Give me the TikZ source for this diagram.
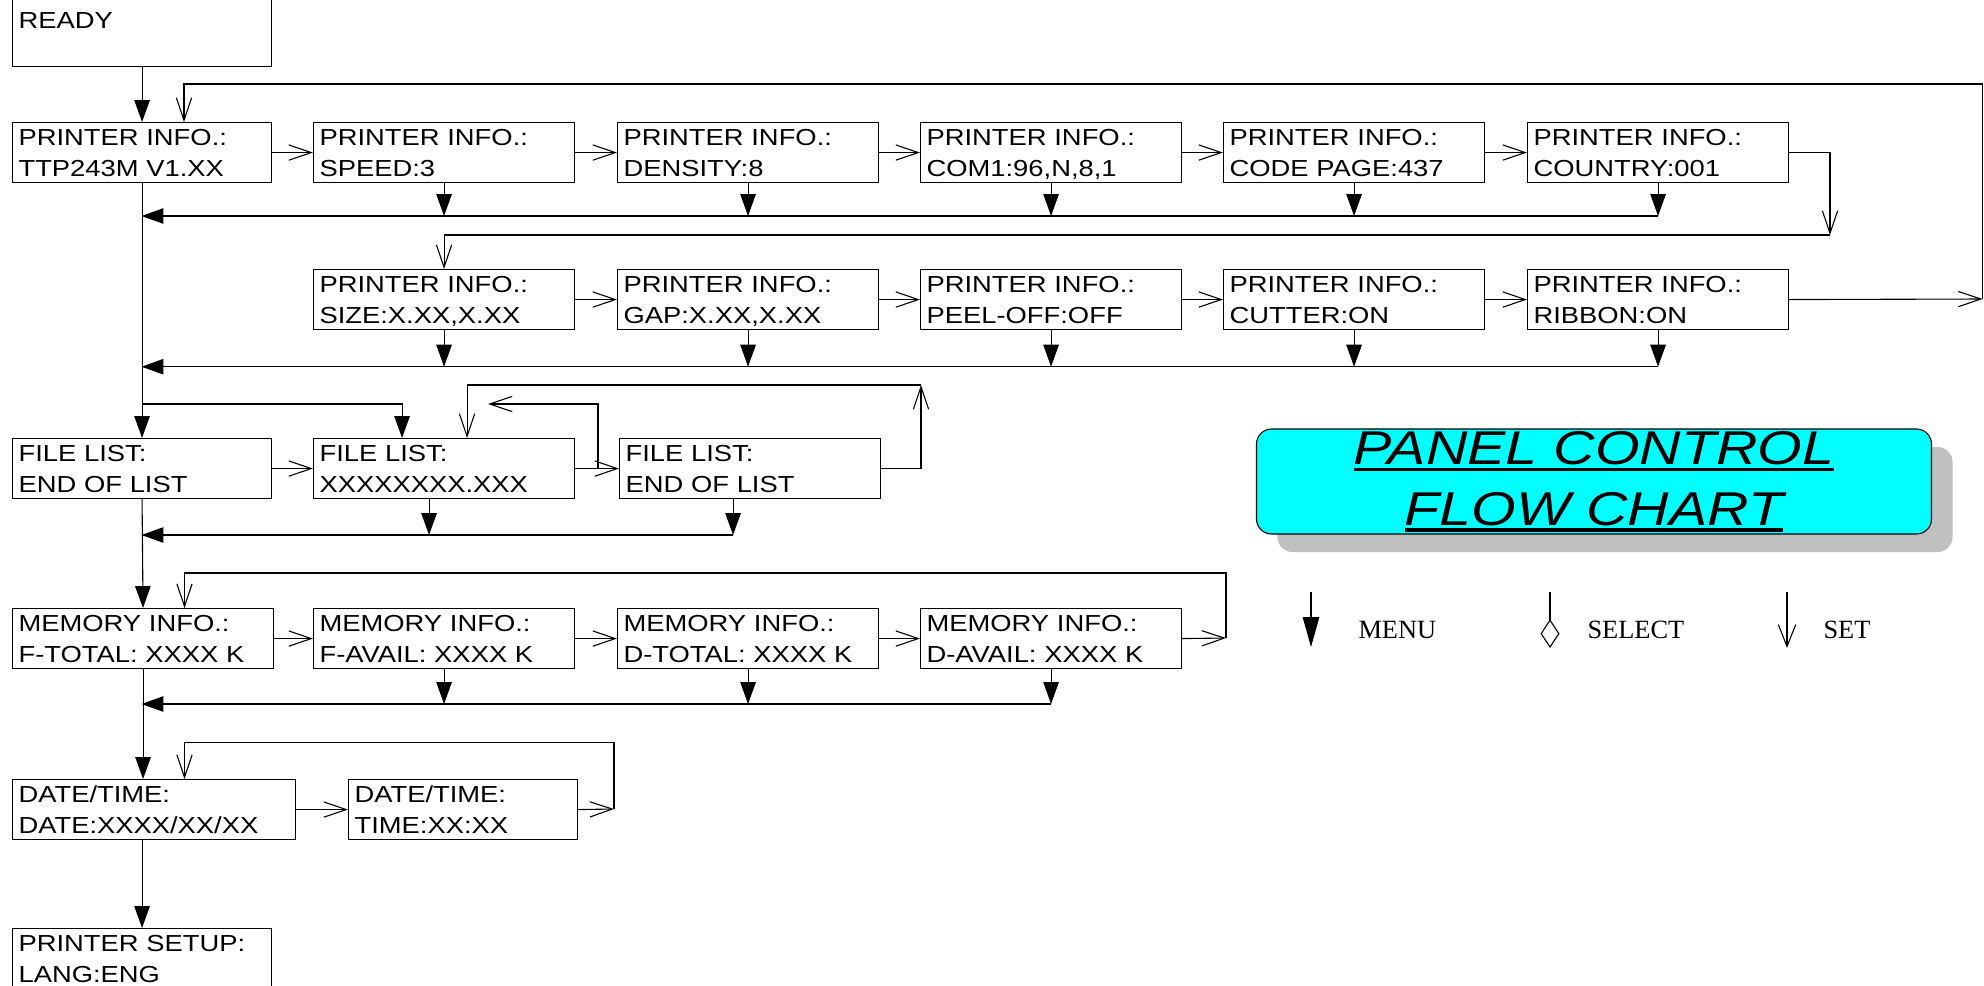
\documentclass[tikz,border=0pt]{standalone}
\usepackage{fontspec}
\usetikzlibrary{arrows.meta}
\newfontfamily\lcdfont[FakeStretch=1.18]{Liberation Sans}
\newfontfamily\titlefont[FakeStretch=1.21]{Liberation Sans}
\newfontfamily\legendfont{Liberation Serif}
\definecolor{titlecyan}{rgb}{0.000000, 1.000000, 1.000000}
\definecolor{shadegray}{rgb}{0.752941, 0.752941, 0.752941}
\newlength{\du}
\setlength{\du}{0.02cm}
\newcommand{\ulword}[1]{\setbox0\hbox{#1}\rlap{\rule[-3.8pt]{\wd0}{1.9pt}}\box0}
\tikzset{
  lcdbox/.style={draw=black, fill=white, anchor=north west, align=left,
    text width=#1\du, inner xsep=6\du, inner ysep=0pt, minimum height=60\du,
    text height=9.5pt, text depth=17.8pt,
    font=\lcdfont\fontsize{13.2pt}{17.8pt}\selectfont},
  menuarrow/.style={-{Triangle[length=12.5pt,width=8.8pt]}},
  setarrow/.style={-{Straight Barb[length=12.8pt,width=8.7pt]}},
  titlebox/.style={draw=black, fill=titlecyan, rounded corners=15\du,
    minimum width=675\du, minimum height=105\du, inner sep=0pt, align=center,
    font=\titlefont\itshape\fontsize{27pt}{34.5pt}\selectfont},
  titleshade/.style={fill=shadegray, rounded corners=15\du,
    minimum width=675\du, minimum height=105\du, inner sep=0pt},
  legendtext/.style={anchor=base west, inner sep=0pt,
    font=\legendfont\fontsize{15pt}{18pt}\selectfont}
}
\begin{document}
\begin{tikzpicture}
\pgftransformxscale{1.000000}
\pgftransformyscale{-1.000000}
\definecolor{dialinecolor}{rgb}{0.000000, 0.000000, 0.000000}
\pgfsetstrokecolor{dialinecolor}
\pgfsetlinewidth{1.100000\du}
\path[use as bounding box, fill=white] (0.000000\du,0.000000\du) rectangle (1984.000000\du,985.000000\du);
% boxes
\node[lcdbox=247, minimum height=67\du, text depth=14.6pt] (ready) at (12.000000\du,-1.000000\du) {READY};
\node[lcdbox=247] (pi1) at (12.000000\du,122.000000\du) {PRINTER INFO.:\\TTP243M V1.XX};
\node[lcdbox=249] (pi2) at (313.000000\du,122.000000\du) {PRINTER INFO.:\\SPEED:3};
\node[lcdbox=249] (pi3) at (617.000000\du,122.000000\du) {PRINTER INFO.:\\DENSITY:8};
\node[lcdbox=249] (pi4) at (920.000000\du,122.000000\du) {PRINTER INFO.:\\COM1:96,N,8,1};
\node[lcdbox=249] (pi5) at (1223.000000\du,122.000000\du) {PRINTER INFO.:\\CODE PAGE:437};
\node[lcdbox=249] (pi6) at (1527.000000\du,122.000000\du) {PRINTER INFO.:\\COUNTRY:001};
\node[lcdbox=249] (pr1) at (313.000000\du,269.000000\du) {PRINTER INFO.:\\SIZE:X.XX,X.XX};
\node[lcdbox=249] (pr2) at (617.000000\du,269.000000\du) {PRINTER INFO.:\\GAP:X.XX,X.XX};
\node[lcdbox=249] (pr3) at (920.000000\du,269.000000\du) {PRINTER INFO.:\\PEEL-OFF:OFF};
\node[lcdbox=249] (pr4) at (1223.000000\du,269.000000\du) {PRINTER INFO.:\\CUTTER:ON};
\node[lcdbox=249] (pr5) at (1527.000000\du,269.000000\du) {PRINTER INFO.:\\RIBBON:ON};
\node[lcdbox=247] (fl1) at (12.000000\du,438.000000\du) {FILE LIST:\\END OF LIST};
\node[lcdbox=249] (fl2) at (313.000000\du,438.000000\du) {FILE LIST:\\XXXXXXXX.XXX};
\node[lcdbox=249] (fl3) at (619.000000\du,438.000000\du) {FILE LIST:\\END OF LIST};
\node[lcdbox=249] (me1) at (12.000000\du,608.000000\du) {MEMORY INFO.:\\F-TOTAL: XXXX K};
\node[lcdbox=249] (me2) at (313.000000\du,608.000000\du) {MEMORY INFO.:\\F-AVAIL: XXXX K};
\node[lcdbox=249] (me3) at (617.000000\du,608.000000\du) {MEMORY INFO.:\\D-TOTAL: XXXX K};
\node[lcdbox=249] (me4) at (920.000000\du,608.000000\du) {MEMORY INFO.:\\D-AVAIL: XXXX K};
\node[lcdbox=271] (dt1) at (12.000000\du,779.000000\du) {DATE/TIME:\\DATE:XXXX/XX/XX};
\node[lcdbox=217] (dt2) at (348.000000\du,779.000000\du) {DATE/TIME:\\TIME:XX:XX};
\node[lcdbox=247] (ps) at (12.000000\du,928.000000\du) {PRINTER SETUP:\\LANG:ENG};
% corners of the lines
\coordinate (m1) at (141.500000\du,216.000000\du);
\coordinate (m2) at (141.500000\du,366.700000\du);
\coordinate (b1) at (141.500000\du,404.000000\du);
\coordinate (m3) at (141.500000\du,535.000000\du);
\coordinate (m4) at (141.500000\du,704.000000\du);
\coordinate (s1) at (1830.000000\du,235.000000\du);
\coordinate (r1) at (1982.500000\du,299.000000\du);
\coordinate (t1) at (184.000000\du,84.000000\du);
\coordinate (fj) at (598.000000\du,468.000000\du);
\coordinate (fb) at (488.000000\du,404.000000\du);
\coordinate (f3) at (921.000000\du,385.000000\du);
\coordinate (s4) at (1226.000000\du,638.000000\du);
\coordinate (t4) at (184.500000\du,573.000000\du);
\coordinate (s5) at (614.000000\du,809.000000\du);
\coordinate (t5) at (184.500000\du,742.700000\du);
% main column
\draw[menuarrow] (ready.south) -- (pi1.north);
\draw[menuarrow] (pi1.south) -- (fl1.north);
\draw[menuarrow] (fl1.south) -- (me1.north);
\draw[menuarrow] (me1.south) -- (me1.south |- dt1.north);
\draw[menuarrow] (ps.north |- dt1.south) -- (ps.north);
% printer info
\draw[setarrow] (pi1.east) -- (pi2.west);
\draw[setarrow] (pi2.east) -- (pi3.west);
\draw[setarrow] (pi3.east) -- (pi4.west);
\draw[setarrow] (pi4.east) -- (pi5.west);
\draw[setarrow] (pi5.east) -- (pi6.west);
\draw[setarrow] (pi6.east) -| (s1);
\draw[setarrow] (s1) -| (pr1.north);
\draw[menuarrow] (pi2.south) -- (pi2.south |- m1);
\draw[menuarrow] (pi3.south) -- (pi3.south |- m1);
\draw[menuarrow] (pi4.south) -- (pi4.south |- m1);
\draw[menuarrow] (pi5.south) -- (pi5.south |- m1);
\draw[menuarrow] (pi6.south) -- (pi6.south |- m1);
\draw[menuarrow] (pi6.south |- m1) -- (m1);
\draw[setarrow] (pr1.east) -- (pr2.west);
\draw[setarrow] (pr2.east) -- (pr3.west);
\draw[setarrow] (pr3.east) -- (pr4.west);
\draw[setarrow] (pr4.east) -- (pr5.west);
\draw[setarrow] (pr5.east) -- (r1);
\draw[setarrow] (r1) |- (t1) -- (t1 |- pi1.north);
\draw[menuarrow] (pr1.south) -- (pr1.south |- m2);
\draw[menuarrow] (pr2.south) -- (pr2.south |- m2);
\draw[menuarrow] (pr3.south) -- (pr3.south |- m2);
\draw[menuarrow] (pr4.south) -- (pr4.south |- m2);
\draw[menuarrow] (pr5.south) -- (pr5.south |- m2);
\draw[menuarrow] (pr5.south |- m2) -- (m2);
% file list
\draw[menuarrow] (b1) -| ([xshift=-42\du]fl2.north);
\draw[setarrow] (fl1.east) -- (fl2.west);
\draw[setarrow] (fl2.east) -- (fl3.west);
\draw[setarrow] (fj) |- (fb);
\draw[setarrow] (fl3.east) -| (f3);
\draw[setarrow] (f3) -| ([xshift=23\du]fl2.north);
\draw[menuarrow] ([xshift=-15\du]fl2.south) -- ([xshift=-15\du]fl2.south |- m3);
\draw[menuarrow] ([xshift=-17\du]fl3.south) -- ([xshift=-17\du]fl3.south |- m3);
\draw[menuarrow] ([xshift=-17\du]fl3.south |- m3) -- (m3);
% memory info
\draw[setarrow] (me1.east) -- (me2.west);
\draw[setarrow] (me2.east) -- (me3.west);
\draw[setarrow] (me3.east) -- (me4.west);
\draw[setarrow] (me4.east) -- (s4);
\draw[setarrow] (s4) |- (t4) -- (t4 |- me1.north);
\draw[menuarrow] (me2.south) -- (me2.south |- m4);
\draw[menuarrow] (me3.south) -- (me3.south |- m4);
\draw[menuarrow] (me4.south) -- (me4.south |- m4);
\draw[menuarrow] (me4.south |- m4) -- (m4);
% date/time
\draw[setarrow] (dt1.east) -- (dt2.west);
\draw[setarrow] (dt2.east) -- (s5);
\draw[setarrow] (s5) |- (t5) -- (t5 |- dt1.north);
% title
\node[titleshade] (shade) at (1615.000000\du,499.500000\du) {};
\node[titlebox] (title) at (1594.000000\du,481.500000\du) {\ulword{PANEL CONTROL}\\\ulword{FLOW CHART}};
% legend
\coordinate (lm1) at (1311.000000\du,592.000000\du);
\coordinate (lm2) at (1311.000000\du,647.000000\du);
\coordinate (ls1) at (1550.000000\du,592.000000\du);
\coordinate (ls2) at (1550.000000\du,648.000000\du);
\coordinate (lt1) at (1787.000000\du,592.000000\du);
\coordinate (lt2) at (1787.000000\du,648.000000\du);
\draw[-{Triangle[length=17pt,width=9.4pt]}] (lm1) -- (lm2);
\draw[-{Diamond[open,length=16.4pt,width=10.8pt]}] (ls1) -- (ls2);
\draw[-{Straight Barb[length=12.5pt,width=9.9pt]}] (lt1) -- (lt2);
\node[legendtext] (menu) at (1358.000000\du,638.300000\du) {MENU};
\node[legendtext] (select) at (1587.000000\du,638.300000\du) {SELECT};
\node[legendtext] (set) at (1823.000000\du,638.300000\du) {SET};
\end{tikzpicture}
\end{document}
